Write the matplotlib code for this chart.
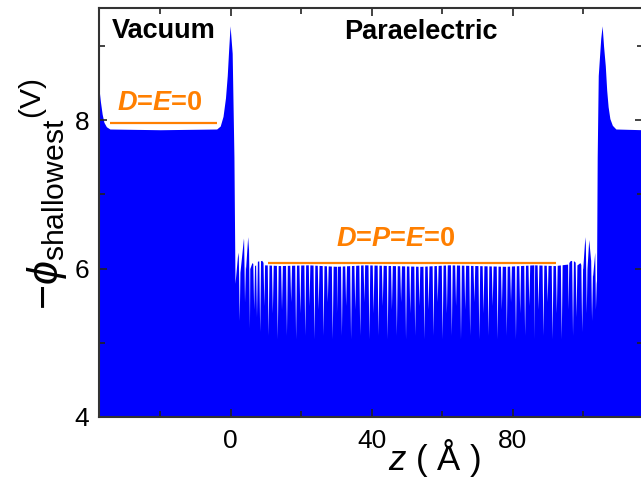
import numpy as np
import matplotlib
matplotlib.use("Agg")
import matplotlib.pyplot as plt

plt.rcParams['font.family'] = ['Liberation Sans', 'DejaVu Sans']
plt.rcParams['mathtext.fontset'] = 'custom'
plt.rcParams['mathtext.rm'] = 'Liberation Sans'
plt.rcParams['mathtext.it'] = 'Liberation Sans:italic'
plt.rcParams['mathtext.bf'] = 'Liberation Sans:bold'
plt.rcParams['mathtext.bfit'] = 'Liberation Sans:bold:italic'

# ---------------- data ----------------
# smooth envelope of -phi (V) vs z (Angstrom)
env_z = [-37.4, -37.0, -36.5, -36.0, -35.3, -34.3, -20.0, -4.0, -3.0, -2.2, -1.5, -1.0,
         -0.6, -0.2, 0.4, 0.9, 1.2, 2.0, 2.6, 3.6, 4.2, 4.8, 5.4, 6.0, 6.9, 7.6, 8.8, 9.6,
         14.0, 22.0, 30.0, 38.0, 46.0, 54.0, 62.0, 70.0, 78.0, 86.0, 92.0, 95.6,
         96.4, 97.5, 98.3, 99.1, 99.9, 100.5, 101.1, 101.6, 102.1, 102.7, 103.3,
         103.8, 104.0, 104.3, 105.0, 105.4, 105.8, 106.3, 106.7, 107.1, 107.6, 108.3,
         109.3, 117.0]
env_phi = [8.42, 8.25, 8.08, 7.97, 7.91, 7.88, 7.87, 7.88, 7.92, 8.05, 8.30, 8.60,
           8.95, 9.27, 8.90, 7.50, 5.80, 6.22, 5.95, 6.41, 6.00, 6.43, 6.00, 6.08, 6.04,
           6.10, 6.11, 6.05,
           6.04, 6.05, 6.03, 6.05, 6.04, 6.03, 6.05, 6.04, 6.03, 6.05, 6.04, 6.06,
           6.11, 6.10, 6.05, 6.08, 6.00, 6.43, 6.00, 6.39, 6.13, 5.90, 6.22,
           5.80, 7.50, 8.60, 9.10, 9.27, 9.00, 8.73, 8.40, 8.18, 8.02, 7.93,
           7.88, 7.87]

# narrow atomic-plane dips in the paraelectric slab: position and minimum
dip_z = [2.4, 3.9, 5.3, 6.5, 7.3, 8.2, 9.4, 10.6, 11.8, 13.2, 14.4, 15.8, 17.0, 18.4,
         19.6, 21.0, 22.2, 23.6, 24.8, 26.2, 27.4, 28.8, 30.0, 31.4, 32.6, 34.0,
         35.2, 36.6, 37.8, 39.2, 40.4, 41.8, 43.0, 44.4, 45.6, 47.0, 48.2, 49.6,
         50.8, 52.2, 53.4, 54.8, 56.0, 57.4, 58.6, 60.0, 61.2, 62.6, 63.8, 65.2,
         66.4, 67.8, 69.0, 70.4, 71.6, 73.0, 74.2, 75.6, 76.8, 78.2, 79.4, 80.8,
         82.0, 83.4, 84.6, 86.0, 87.2, 88.6, 89.8, 91.2, 92.4, 93.8, 95.7, 97.0,
         98.0, 99.6, 100.9, 102.4, 103.5]
dip_min = [5.30, 5.55, 5.20, 5.45, 5.35, 5.15, 5.50, 5.10, 5.40, 5.05, 5.45, 5.10,
           5.55, 5.05, 5.40, 5.10, 5.50, 5.05, 5.45, 5.10, 5.55, 5.05, 5.40, 5.10,
           5.50, 5.05, 5.45, 5.10, 5.55, 5.05, 5.40, 5.10, 5.50, 5.05, 5.45, 5.10,
           5.55, 5.05, 5.40, 5.10, 5.50, 5.05, 5.45, 5.10, 5.55, 5.05, 5.40, 5.10,
           5.50, 5.05, 5.45, 5.10, 5.55, 5.05, 5.40, 5.10, 5.50, 5.05, 5.45, 5.10,
           5.55, 5.05, 5.40, 5.10, 5.50, 5.05, 5.45, 5.10, 5.55, 5.05, 5.40, 5.05,
           5.45, 5.10, 5.35, 5.15, 5.40, 5.30, 5.45]

# reference lines (flat-band levels)
vac_line_z = [-34.3, -4.0]
vac_line_phi = 7.96
para_line_z = [10.5, 92.3]
para_line_phi = 6.07

x_ticks_major = [0, 40, 80]
x_ticks_minor = [-20, 20, 60, 100]
y_ticks_major = [4, 6, 8]
y_ticks_minor = [5, 7, 9]

# ---------------- build the polyline ----------------
env_z_a = np.array(env_z)
env_phi_a = np.array(env_phi)
w = 0.25
pts = list(zip(env_z, env_phi))
for dz, dm in zip(dip_z, dip_min):
    for zz in (dz - w, dz + w):
        pts.append((zz, float(np.interp(zz, env_z_a, env_phi_a))))
    pts.append((dz, dm))
pts.sort(key=lambda p: p[0])
cz = np.array([p[0] for p in pts])
cphi = np.array([p[1] for p in pts])

# ---------------- figure ----------------
W, H = 641, 479
fig = plt.figure(figsize=(W / 100, H / 100), dpi=100)
ax = fig.add_axes([99 / W, 1 - 417 / H, (643 - 99) / W, (417 - 8) / H])

ax.fill_between(cz, 4, cphi, color='#0000FF', lw=0, antialiased=True)

orange = '#FF7F00'
ax.plot(vac_line_z, [vac_line_phi] * 2, color=orange, lw=1.6, solid_capstyle='butt')
ax.plot(para_line_z, [para_line_phi] * 2, color=orange, lw=1.6, solid_capstyle='butt')

ax.set_xlim(-37.4, 117.0)
ax.set_ylim(4, 9.51)
ax.set_xticks(x_ticks_major)
ax.set_xticks(x_ticks_minor, minor=True)
ax.set_yticks(y_ticks_major)
ax.set_yticks(y_ticks_minor, minor=True)
ax.tick_params(which='both', direction='in', top=True, right=True, color='#222222',
               width=1.2, labelsize=19)
ax.tick_params(axis='x', which='major', pad=9)
ax.tick_params(axis='y', which='major', pad=7)
ax.tick_params(which='major', length=6)
ax.tick_params(which='minor', length=4)
for s in ax.spines.values():
    s.set_color('#333333')
    s.set_linewidth(1.5)

# text annotations
fig.text(164 / W, 1 - 31 / H, 'Vacuum', fontsize=19.5, fontweight='bold',
         ha='center', va='center')
fig.text(421 / W, 1 - 32 / H, 'Paraelectric', fontsize=19.5, fontweight='bold',
         ha='center', va='center')
fig.text(160 / W, 1 - 103 / H, r'$\mathbfit{D}$=$\mathbfit{E}$=0', fontsize=19.5,
         fontweight='bold', color=orange, ha='center', va='center')
fig.text(396 / W, 1 - 239 / H, r'$\mathbfit{D}$=$\mathbfit{P}$=$\mathbfit{E}$=0',
         fontsize=19.5, fontweight='bold', color=orange, ha='center', va='center')

fig.text(44 / W, 1 - 194 / H, r'$-\mathit{\phi}_{\mathrm{shallowest}}{}^{(\mathrm{V})}$',
         fontsize=31, rotation=90, ha='center', va='center')
fig.text(434 / W, 1 - 458 / H, r'$\mathit{z}$ ( Å )', fontsize=25,
         ha='center', va='center')

fig.savefig('out.png', dpi=100)
